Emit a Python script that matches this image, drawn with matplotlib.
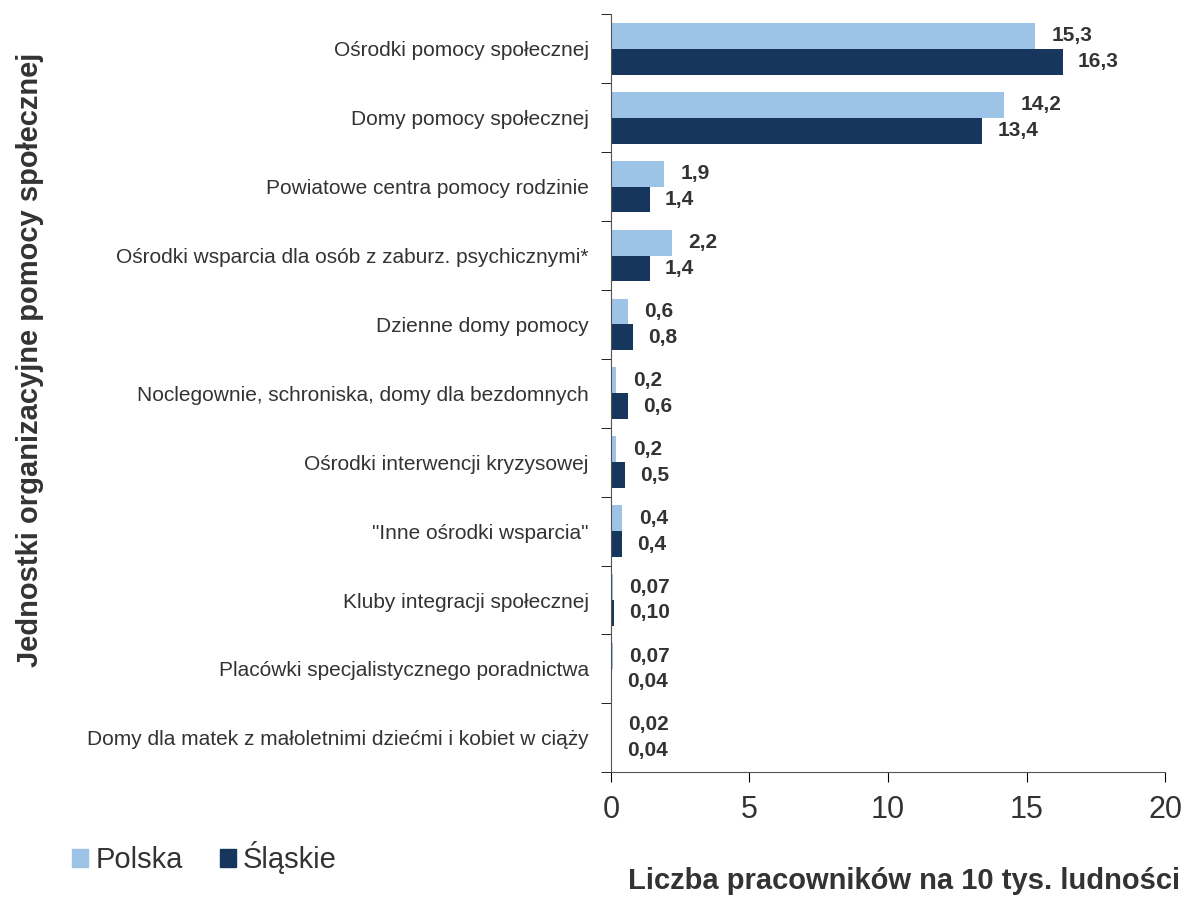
import numpy as np
import matplotlib.pyplot as plt
from matplotlib.patches import Patch

plt.rcParams['font.family'] = ['Liberation Sans', 'DejaVu Sans']

# dane
kategorie = [
    'Ośrodki pomocy społecznej',
    'Domy pomocy społecznej',
    'Powiatowe centra pomocy rodzinie',
    'Ośrodki wsparcia dla osób z zaburz. psychicznymi*',
    'Dzienne domy pomocy',
    'Noclegownie, schroniska, domy dla bezdomnych',
    'Ośrodki interwencji kryzysowej',
    '"Inne ośrodki wsparcia"',
    'Kluby integracji społecznej',
    'Placówki specjalistycznego poradnictwa',
    'Domy dla matek z małoletnimi dziećmi i kobiet w ciąży',
]
polska = [15.3, 14.2, 1.9, 2.2, 0.6, 0.2, 0.2, 0.4, 0.07, 0.07, 0.02]
slaskie = [16.3, 13.4, 1.4, 1.4, 0.8, 0.6, 0.5, 0.4, 0.10, 0.04, 0.04]
etykiety_polska = ['15,3', '14,2', '1,9', '2,2', '0,6', '0,2', '0,2', '0,4', '0,07', '0,07', '0,02']
etykiety_slaskie = ['16,3', '13,4', '1,4', '1,4', '0,8', '0,6', '0,5', '0,4', '0,10', '0,04', '0,04']

kolor_pl = '#9DC3E6'
kolor_sl = '#17365D'
kolor_txt = '#333333'

fig = plt.figure(figsize=(11.84, 8.98), dpi=100)
ax = fig.add_axes([0.516, 0.14, 0.468, 0.844])

n = len(kategorie)
y = np.arange(n)
h = 0.375
ax.barh(y - h / 2, polska, height=h, color=kolor_pl)
ax.barh(y + h / 2, slaskie, height=h, color=kolor_sl)

for i in range(n):
    ax.text(polska[i] + 0.6, y[i] - h / 2, etykiety_polska[i], va='center', ha='left',
            fontsize=15, fontweight='bold', color=kolor_txt)
    ax.text(slaskie[i] + 0.55, y[i] + h / 2, etykiety_slaskie[i], va='center', ha='left',
            fontsize=15, fontweight='bold', color=kolor_txt)

ax.set_ylim(n - 0.5, -0.5)
ax.set_xlim(0, 20)
ax.set_xticks([0, 5, 10, 15, 20])
ax.tick_params(axis='x', labelsize=22, colors='black', labelcolor=kolor_txt, length=7, pad=9)

# nazwy kategorii + kreski pomiedzy nimi
ax.set_yticks(y)
ax.set_yticklabels(kategorie, fontsize=15, color=kolor_txt)
ax.tick_params(axis='y', length=0, pad=16)
ax.set_yticks(np.arange(-0.5, n, 1), minor=True)
ax.tick_params(axis='y', which='minor', length=7)

for s in ['top', 'right']:
    ax.spines[s].set_visible(False)
ax.spines['left'].set_color('#555555')
ax.spines['bottom'].set_color('#555555')

fig.text(0.025, 0.599, 'Jednostki organizacyjne pomocy społecznej', rotation=90,
         ha='center', va='center', fontsize=21, fontweight='bold', color=kolor_txt)
fig.text(0.997, 0.019, 'Liczba pracowników na 10 tys. ludności', ha='right', va='center',
         fontsize=21, fontweight='bold', color=kolor_txt)

uchwyty = [Patch(color=kolor_pl, label='Polska'), Patch(color=kolor_sl, label='Śląskie')]
fig.legend(handles=uchwyty, loc='center left', bbox_to_anchor=(0.039, 0.045), ncol=2,
           frameon=False, fontsize=21, handlelength=0.55, handleheight=0.55,
           handletextpad=0.25, columnspacing=1.25, labelcolor=kolor_txt)

plt.savefig('out.png', dpi=100)
